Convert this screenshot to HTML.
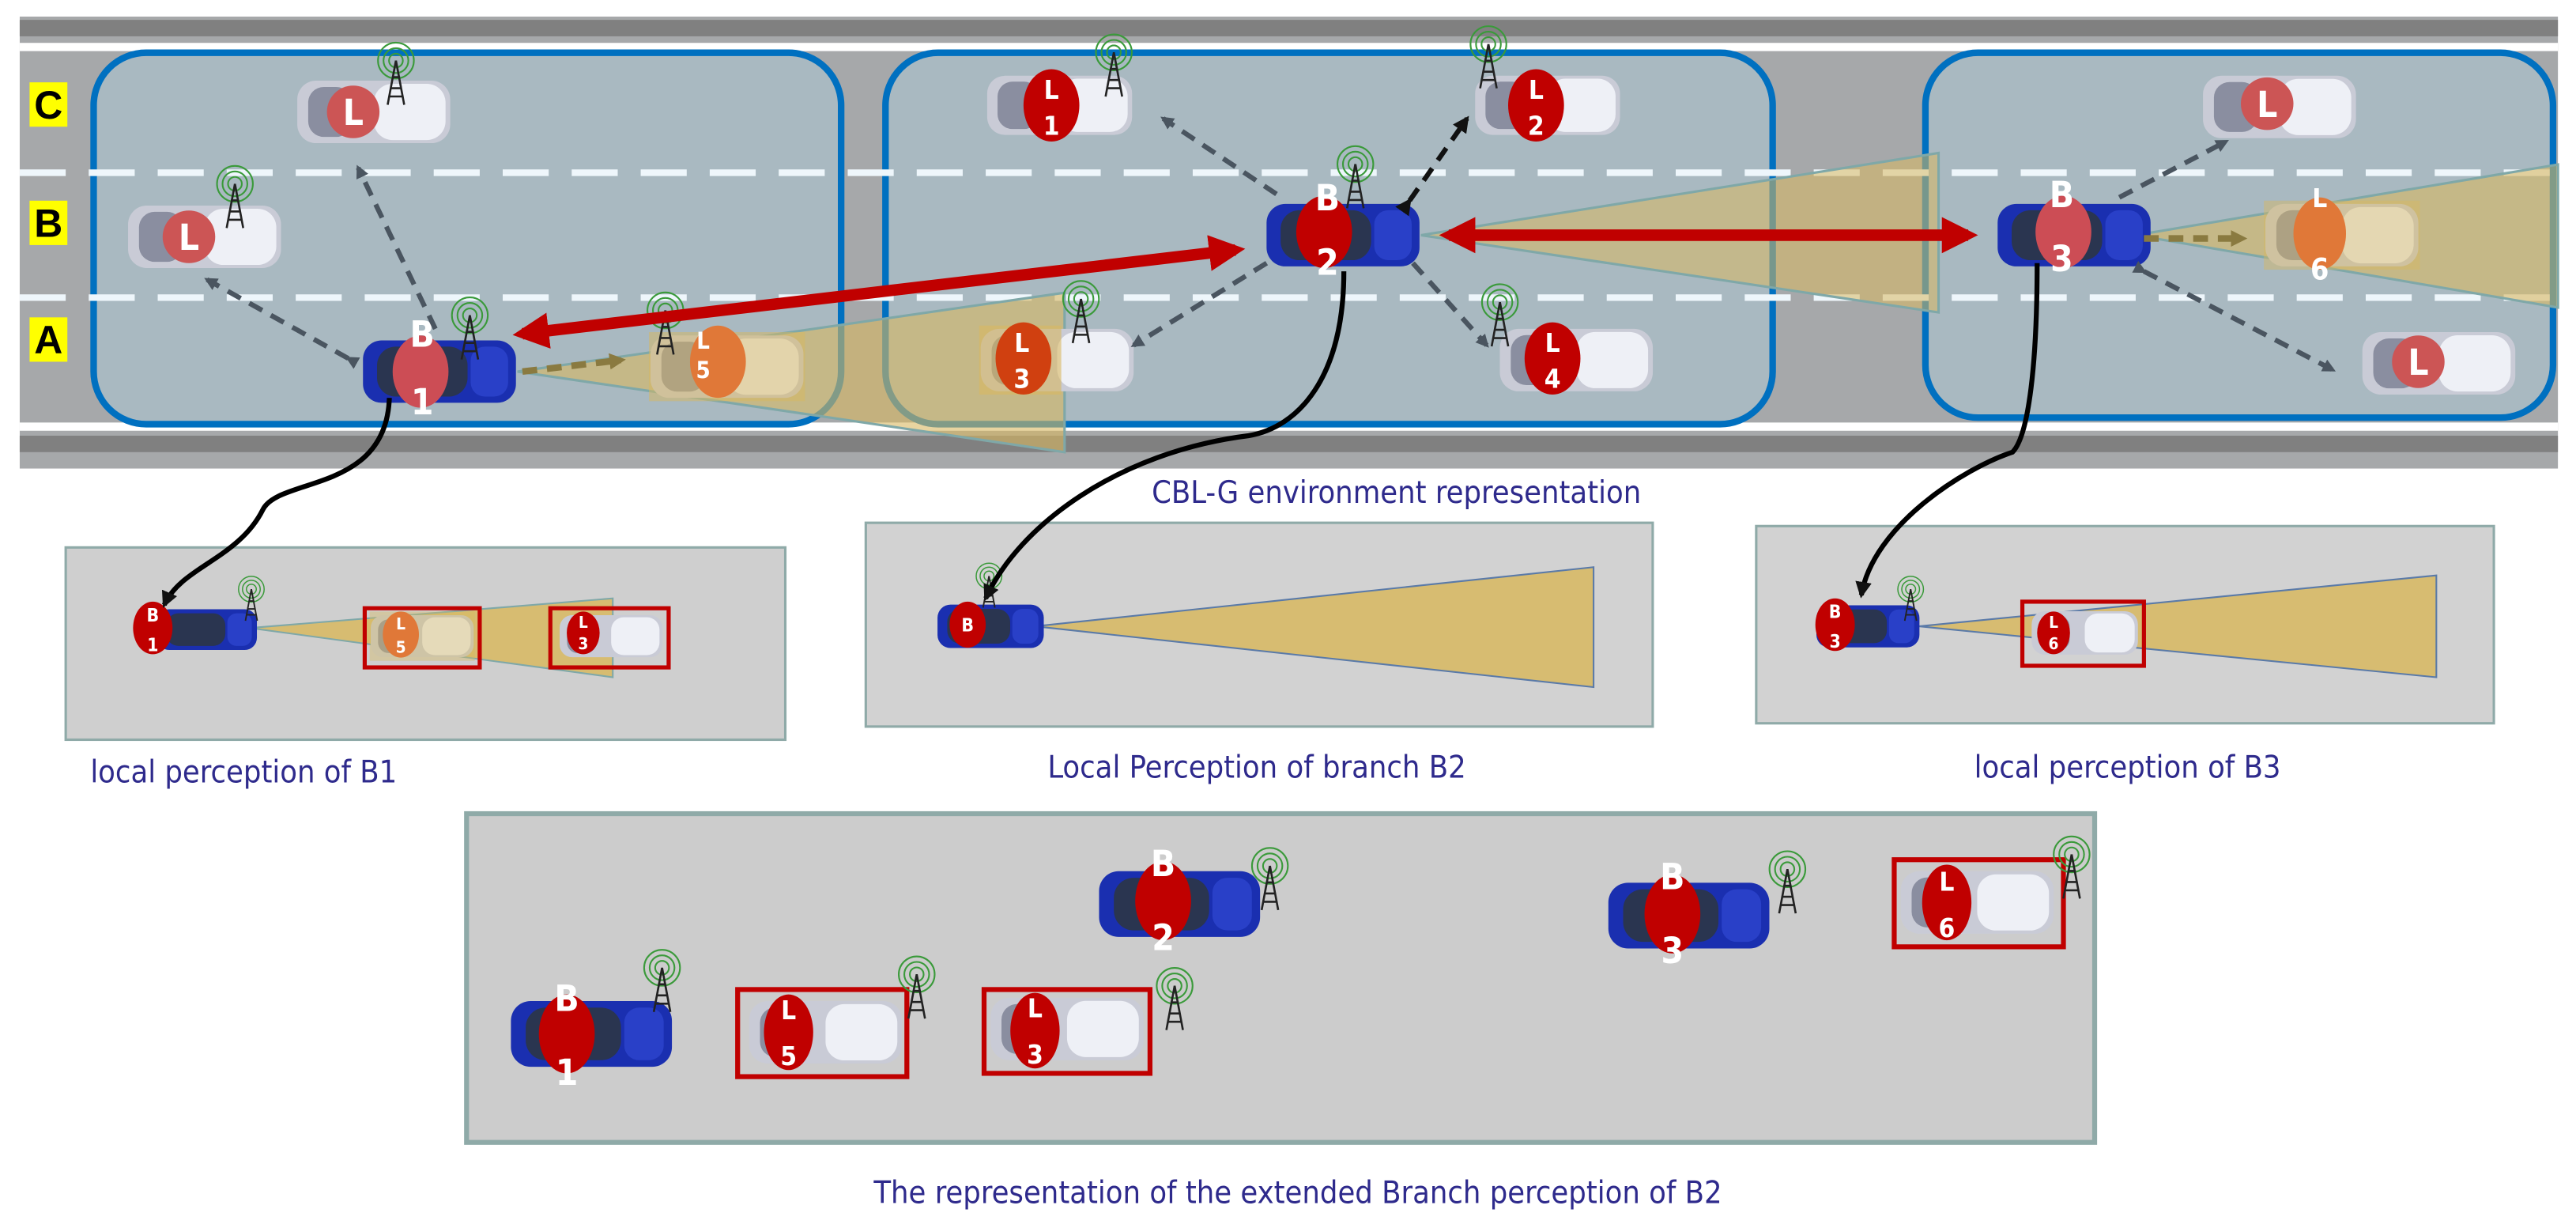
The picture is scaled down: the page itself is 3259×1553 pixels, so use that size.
<!DOCTYPE html>
<html><head><meta charset="utf-8"><style>
html,body{margin:0;padding:0;background:#fff;}
svg{display:block}
.lbl{font-family:"DejaVu Sans Condensed","DejaVu Sans",sans-serif;font-weight:bold;fill:#fff;text-anchor:middle}
.cap{font-family:"DejaVu Sans Condensed","DejaVu Sans",sans-serif;fill:#2e2a8c;font-size:19px}
.lane{font-family:"Liberation Sans",sans-serif;font-weight:bold;font-size:24px;text-anchor:middle}
</style></head><body>
<svg width="3259" height="1553" viewBox="0 0 1568 747" xmlns="http://www.w3.org/2000/svg">
<defs>
<symbol id="carW" viewBox="0 0 100 44">
 <rect x="1" y="2" width="98" height="40" rx="12" fill="#c9cbd6"/>
 <rect x="50" y="4" width="46" height="36" rx="12" fill="#eef0f6"/>
 <rect x="8" y="6" width="28" height="32" rx="10" fill="#8a8ea0"/>
</symbol>
<symbol id="carB" viewBox="0 0 100 44">
 <rect x="1" y="2" width="98" height="40" rx="12" fill="#1a2fb0"/>
 <rect x="10" y="6" width="58" height="32" rx="12" fill="#2a3550"/>
 <rect x="70" y="6" width="24" height="32" rx="9" fill="#2940c8"/>
</symbol>
<symbol id="ant" viewBox="0 0 30 50">
 <circle cx="15" cy="14" r="13" fill="none" stroke="#3a9a3a" stroke-width="1.2"/>
 <circle cx="15" cy="14" r="9" fill="none" stroke="#3a9a3a" stroke-width="1.2"/>
 <circle cx="15" cy="14" r="5" fill="none" stroke="#3a9a3a" stroke-width="1.2"/>
 <path d="M15 14 L9 46 M15 14 L21 46 M11 34 L19 34 M10 40 L20 40 M12 26 L18 26" stroke="#222" stroke-width="1.5" fill="none"/>
</symbol>
<marker id="ag" markerWidth="8" markerHeight="8" refX="6" refY="4" orient="auto" markerUnits="userSpaceOnUse"><path d="M0,0 L8,4 L0,8 z" fill="#4a5560"/></marker>
<marker id="ak" markerWidth="10" markerHeight="10" refX="8" refY="5" orient="auto" markerUnits="userSpaceOnUse"><path d="M0,0 L10,5 L0,10 z" fill="#111"/></marker>
<marker id="ay" markerWidth="10" markerHeight="10" refX="7" refY="5" orient="auto" markerUnits="userSpaceOnUse"><path d="M0,0 L10,5 L0,10 z" fill="#8a7a40"/></marker>
<marker id="ar" markerWidth="22" markerHeight="22" refX="16" refY="11" orient="auto-start-reverse" markerUnits="userSpaceOnUse"><path d="M0,0 L22,11 L0,22 z" fill="#c00000"/></marker>
</defs>

<!-- road -->
<rect x="12" y="10" width="1545" height="275" fill="#a6a8aa"/>
<rect x="12" y="12" width="1545" height="10" fill="#808080"/>
<rect x="12" y="26" width="1545" height="5" fill="#fff"/>
<rect x="12" y="257" width="1545" height="5" fill="#fff"/>
<rect x="12" y="265" width="1545" height="10" fill="#808080"/>

<!-- lane labels -->
<rect x="18" y="50" width="23" height="27" fill="#ffff00"/><text class="lane" x="29.5" y="72">C</text>
<rect x="18" y="122" width="23" height="27" fill="#ffff00"/><text class="lane" x="29.5" y="144">B</text>
<rect x="18" y="193" width="23" height="27" fill="#ffff00"/><text class="lane" x="29.5" y="215">A</text>

<!-- group boxes -->
<rect x="57" y="32" width="455" height="226" rx="32" fill="#a9bcc6" fill-opacity="0.85" stroke="#0070c0" stroke-width="4"/>
<rect x="539" y="32" width="540" height="226" rx="32" fill="#a9bcc6" fill-opacity="0.85" stroke="#0070c0" stroke-width="4"/>
<rect x="1172" y="32" width="382" height="222" rx="32" fill="#a9bcc6" fill-opacity="0.85" stroke="#0070c0" stroke-width="4"/>
<line x1="12" y1="105" x2="1557" y2="105" stroke="#eef6fb" stroke-width="4" stroke-dasharray="28,14"/>
<line x1="12" y1="181" x2="1557" y2="181" stroke="#eef6fb" stroke-width="4" stroke-dasharray="28,14"/>

<!-- cones -->
<polygon points="315,226 648,178 648,275" fill="#d8b860" fill-opacity="0.6" stroke="#7fa8a8" stroke-width="1.5"/>
<polygon points="865,143 1180,93 1180,190" fill="#d8b860" fill-opacity="0.55" stroke="#7fa8a8" stroke-width="1.5"/>
<polygon points="1300,143 1557,100 1557,187" fill="#d8b860" fill-opacity="0.6" stroke="#7fa8a8" stroke-width="1.5"/>

<!-- top cars -->
<use href="#carW" x="180" y="47" width="95" height="42"/>
<circle cx="215" cy="68" r="16" fill="#cc5555"/><text class="lbl" x="215" y="76" font-size="22">L</text>
<use href="#ant" x="228" y="25" width="26" height="42"/>
<use href="#carW" x="77" y="123" width="95" height="42"/>
<circle cx="115" cy="144" r="16" fill="#cc5555"/><text class="lbl" x="115" y="152" font-size="22">L</text>
<use href="#ant" x="130" y="100" width="26" height="42"/>
<use href="#carB" x="220" y="205" width="95" height="42"/>
<ellipse cx="256" cy="226" rx="17" ry="22" fill="#cc4d55"/>
<text class="lbl" x="257" y="211" font-size="22">B</text><text class="lbl" x="257" y="252" font-size="22">1</text>
<use href="#ant" x="273" y="180" width="26" height="42"/>
<use href="#carW" x="395" y="202" width="95" height="42"/>
<rect x="395" y="202" width="95" height="42" fill="#d8b860" fill-opacity="0.5"/>
<ellipse cx="437" cy="220" rx="17" ry="22" fill="#e07838"/>
<text class="lbl" x="428" y="212" font-size="14">L</text><text class="lbl" x="428" y="230" font-size="14" fill="#f5deb3">5</text>
<use href="#ant" x="392" y="177" width="26" height="42"/>

<use href="#carW" x="600" y="43" width="90" height="42"/>
<ellipse cx="640" cy="64" rx="17" ry="22" fill="#c00000"/>
<text class="lbl" x="640" y="60" font-size="16">L</text><text class="lbl" x="640" y="82" font-size="16">1</text>
<use href="#ant" x="665" y="20" width="26" height="42"/>
<use href="#carW" x="897" y="43" width="90" height="42"/>
<ellipse cx="935" cy="64" rx="17" ry="22" fill="#c00000"/>
<text class="lbl" x="935" y="60" font-size="16">L</text><text class="lbl" x="935" y="82" font-size="16">2</text>
<use href="#ant" x="893" y="15" width="26" height="42"/>
<use href="#carB" x="770" y="122" width="95" height="42"/>
<ellipse cx="806" cy="141" rx="17" ry="22" fill="#c00000"/>
<text class="lbl" x="808" y="128" font-size="22">B</text><text class="lbl" x="808" y="167" font-size="22">2</text>
<use href="#ant" x="812" y="88" width="26" height="42"/>
<use href="#carW" x="596" y="198" width="95" height="42"/>
<rect x="596" y="198" width="50" height="42" fill="#d8b860" fill-opacity="0.6"/>
<ellipse cx="623" cy="218" rx="17" ry="22" fill="#d04010"/>
<text class="lbl" x="622" y="214" font-size="16">L</text><text class="lbl" x="622" y="236" font-size="16" fill="#f5deb3">3</text>
<use href="#ant" x="645" y="170" width="26" height="42"/>
<use href="#carW" x="912" y="198" width="95" height="42"/>
<ellipse cx="945" cy="218" rx="17" ry="22" fill="#c00000"/>
<text class="lbl" x="945" y="214" font-size="16">L</text><text class="lbl" x="945" y="236" font-size="16">4</text>
<use href="#ant" x="900" y="172" width="26" height="42"/>

<use href="#carW" x="1340" y="44" width="95" height="42"/>
<circle cx="1380" cy="63" r="16" fill="#cc5555"/><text class="lbl" x="1380" y="71" font-size="22">L</text>
<use href="#carB" x="1215" y="122" width="95" height="42"/>
<ellipse cx="1256" cy="141" rx="17" ry="22" fill="#cc4d55"/>
<text class="lbl" x="1255" y="126" font-size="22">B</text><text class="lbl" x="1255" y="165" font-size="22">3</text>
<use href="#carW" x="1378" y="122" width="95" height="42"/>
<rect x="1378" y="122" width="95" height="42" fill="#d8b860" fill-opacity="0.45"/>
<ellipse cx="1412" cy="142" rx="16" ry="22" fill="#e07838"/>
<text class="lbl" x="1412" y="126" font-size="16">L</text><text class="lbl" x="1412" y="170" font-size="18">6</text>
<use href="#carW" x="1437" y="200" width="95" height="42"/>
<circle cx="1472" cy="220" r="16" fill="#cc5555"/><text class="lbl" x="1472" y="228" font-size="22">L</text>

<!-- dashed arrows -->
<g stroke="#4a5560" stroke-width="3" stroke-dasharray="9,6" fill="none">
<line x1="265" y1="200" x2="218" y2="102" marker-end="url(#ag)"/>
<line x1="212" y1="218" x2="126" y2="170" marker-start="url(#ag)" marker-end="url(#ag)"/>
<line x1="777" y1="118" x2="708" y2="72" marker-end="url(#ag)"/>
<line x1="771" y1="160" x2="690" y2="210" marker-end="url(#ag)"/>
<line x1="860" y1="160" x2="905" y2="210" marker-end="url(#ag)"/>
<line x1="1290" y1="120" x2="1355" y2="86" marker-end="url(#ag)"/>
<line x1="1305" y1="165" x2="1420" y2="225" marker-start="url(#ag)" marker-end="url(#ag)"/>
</g>
<line x1="858" y1="122" x2="893" y2="72" stroke="#111" stroke-width="3" stroke-dasharray="9,6" marker-start="url(#ak)" marker-end="url(#ak)"/>
<line x1="318" y1="226" x2="378" y2="219" stroke="#8a7a40" stroke-width="4" stroke-dasharray="9,6" marker-end="url(#ay)"/>
<line x1="1305" y1="145" x2="1365" y2="145" stroke="#8a7a40" stroke-width="4" stroke-dasharray="9,6" marker-end="url(#ay)"/>

<!-- red arrows -->
<line x1="318" y1="203" x2="752" y2="152" stroke="#c00000" stroke-width="7" marker-start="url(#ar)" marker-end="url(#ar)"/>
<line x1="882" y1="143" x2="1198" y2="143" stroke="#c00000" stroke-width="7" marker-start="url(#ar)" marker-end="url(#ar)"/>

<text class="cap" x="850" y="306" text-anchor="middle">CBL-G environment representation</text>

<!-- local boxes -->
<rect x="40" y="333" width="438" height="117" fill="#cfcfcf" stroke="#8faaa8" stroke-width="1.5"/>
<polygon points="152,382 373,364 373,412" fill="#d8b860" fill-opacity="0.85" stroke="#7fa8a8"/>
<use href="#carB" x="95" y="368" width="62" height="30"/>
<ellipse cx="93" cy="382" rx="12" ry="16" fill="#c00000"/>
<text class="lbl" x="93" y="378" font-size="11">B</text><text class="lbl" x="93" y="396" font-size="11">1</text>
<use href="#ant" x="143" y="350" width="20" height="30"/>
<use href="#carW" x="225" y="372" width="64" height="30"/>
<rect x="225" y="372" width="64" height="30" fill="#d8b860" fill-opacity="0.4"/>
<ellipse cx="244" cy="386" rx="11" ry="14" fill="#e07838"/>
<text class="lbl" x="244" y="383" font-size="10">L</text><text class="lbl" x="244" y="397" font-size="10">5</text>
<rect x="222" y="370" width="70" height="36" fill="none" stroke="#c00000" stroke-width="2.5"/>
<use href="#carW" x="340" y="372" width="64" height="30"/>
<ellipse cx="355" cy="385" rx="10" ry="13" fill="#c00000"/>
<text class="lbl" x="355" y="382" font-size="10">L</text><text class="lbl" x="355" y="395" font-size="10">3</text>
<rect x="335" y="370" width="72" height="36" fill="none" stroke="#c00000" stroke-width="2.5"/>

<rect x="527" y="318" width="479" height="124" fill="#d2d2d2" stroke="#8faaa8" stroke-width="1.5"/>
<polygon points="630,381 970,345 970,418" fill="#d8b860" fill-opacity="0.85" stroke="#5a7aa8"/>
<use href="#carB" x="570" y="366" width="66" height="30"/>
<ellipse cx="589" cy="380" rx="11" ry="14" fill="#c00000"/>
<text class="lbl" x="589" y="384" font-size="11">B</text>
<use href="#ant" x="592" y="342" width="20" height="30"/>

<rect x="1069" y="320" width="449" height="120" fill="#d2d2d2" stroke="#8faaa8" stroke-width="1.5"/>
<polygon points="1168,381 1483,350 1483,412" fill="#d8b860" fill-opacity="0.85" stroke="#5a7aa8"/>
<use href="#carB" x="1105" y="366" width="64" height="30"/>
<ellipse cx="1117" cy="380" rx="12" ry="16" fill="#c00000"/>
<text class="lbl" x="1117" y="376" font-size="11">B</text><text class="lbl" x="1117" y="394" font-size="11">3</text>
<use href="#ant" x="1153" y="350" width="20" height="30"/>
<use href="#carW" x="1236" y="370" width="66" height="30"/>
<ellipse cx="1250" cy="385" rx="10" ry="13" fill="#c00000"/>
<text class="lbl" x="1250" y="382" font-size="10">L</text><text class="lbl" x="1250" y="395" font-size="10">6</text>
<rect x="1231" y="366" width="74" height="39" fill="none" stroke="#c00000" stroke-width="2.5"/>

<!-- black connectors (drawn after boxes) -->
<path d="M237,242 C235,300 170,290 160,310 C145,340 110,345 100,368" stroke="#000" stroke-width="3" fill="none" marker-end="url(#ak)"/>
<path d="M818,165 C818,230 790,260 760,265 C680,275 620,320 600,364" stroke="#000" stroke-width="3" fill="none" marker-end="url(#ak)"/>
<path d="M1240,160 C1240,220 1235,265 1225,275 C1195,285 1140,320 1133,362" stroke="#000" stroke-width="3" fill="none" marker-end="url(#ak)"/>

<text class="cap" x="55" y="476">local perception of B1</text>
<text class="cap" x="765" y="473" text-anchor="middle">Local Perception of branch B2</text>
<text class="cap" x="1295" y="473" text-anchor="middle">local perception of B3</text>

<!-- bottom box -->
<rect x="284" y="495" width="991" height="200" fill="#cccccc" stroke="#8faaa8" stroke-width="3"/>
<use href="#carB" x="310" y="607" width="100" height="44"/>
<ellipse cx="345" cy="629" rx="17" ry="24" fill="#c00000"/>
<text class="lbl" x="345" y="615" font-size="22">B</text><text class="lbl" x="345" y="660" font-size="22">1</text>
<use href="#ant" x="390" y="577" width="26" height="42"/>
<use href="#carW" x="455" y="607" width="95" height="42"/>
<ellipse cx="480" cy="628" rx="15" ry="23" fill="#c00000"/>
<text class="lbl" x="480" y="620" font-size="16">L</text><text class="lbl" x="480" y="648" font-size="16">5</text>
<rect x="449" y="602" width="103" height="53" fill="none" stroke="#c00000" stroke-width="3"/>
<use href="#ant" x="545" y="581" width="26" height="42"/>
<use href="#carW" x="602" y="605" width="95" height="42"/>
<ellipse cx="630" cy="627" rx="15" ry="23" fill="#c00000"/>
<text class="lbl" x="630" y="619" font-size="16">L</text><text class="lbl" x="630" y="647" font-size="16">3</text>
<rect x="599" y="602" width="101" height="51" fill="none" stroke="#c00000" stroke-width="3"/>
<use href="#ant" x="702" y="588" width="26" height="42"/>
<use href="#carB" x="668" y="528" width="100" height="44"/>
<ellipse cx="708" cy="548" rx="17" ry="24" fill="#c00000"/>
<text class="lbl" x="708" y="533" font-size="22">B</text><text class="lbl" x="708" y="578" font-size="22">2</text>
<use href="#ant" x="760" y="515" width="26" height="42"/>
<use href="#carB" x="978" y="535" width="100" height="44"/>
<ellipse cx="1018" cy="556" rx="17" ry="24" fill="#c00000"/>
<text class="lbl" x="1018" y="541" font-size="22">B</text><text class="lbl" x="1018" y="586" font-size="22">3</text>
<use href="#ant" x="1075" y="517" width="26" height="42"/>
<use href="#carW" x="1156" y="526" width="95" height="46"/>
<ellipse cx="1185" cy="549" rx="15" ry="23" fill="#c00000"/>
<text class="lbl" x="1185" y="542" font-size="16">L</text><text class="lbl" x="1185" y="570" font-size="16">6</text>
<rect x="1153" y="523" width="103" height="53" fill="none" stroke="#c00000" stroke-width="3"/>
<use href="#ant" x="1248" y="508" width="26" height="42"/>

<text class="cap" x="790" y="732" text-anchor="middle">The representation of the extended Branch perception of  B2</text>
</svg>
</body></html>
